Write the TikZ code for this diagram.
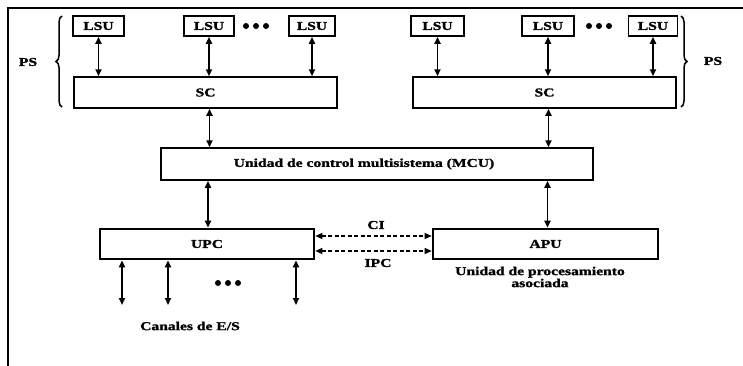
\documentclass[tikz,border=0pt]{standalone}
\usepackage{fontspec}
\setmainfont{Liberation Serif}[FakeStretch=1.3,FakeBold=1.5]
\usetikzlibrary{arrows.meta,decorations.pathreplacing}
\begin{document}
\begin{tikzpicture}[x=1pt,y=-1pt,
  every node/.style={font=\fontsize{12}{13}\selectfont\bfseries},
  box/.style={draw,line width=1.5pt,inner sep=0pt},
  thickbox/.style={draw,line width=2.6pt,inner sep=0pt},
  lsu/.style={box,minimum height=20pt},
  arr/.style={line width=1.8pt,{Triangle[length=7pt,width=6pt]}-{Triangle[length=7pt,width=6pt]}},
  darr/.style={line width=1.3pt,dash pattern=on 4pt off 2.5pt,{Triangle[length=7pt,width=6pt]}-{Triangle[length=7pt,width=6pt]}},
  lbl/.style={inner sep=0pt}]
\useasboundingbox (0,0) rectangle (743,365);
% frame
\draw[line width=1.6pt] (8,366) -- (8,8) -- (744,8);
% left group
\node[lsu,minimum width=51pt] (l1) at (98.5,26) {LSU};
\node[lsu,minimum width=50pt] (l2) at (209,26) {LSU};
\node[lsu,minimum width=46pt] (l3) at (312,26) {LSU};
\node[box,minimum width=263pt,minimum height=31pt] (sc1) at (205.5,92.5) {SC};
% right group
\node[lsu,minimum width=53pt] (r1) at (437.5,26) {LSU};
\node[lsu,minimum width=52pt] (r2) at (548,26) {LSU};
\node[lsu,minimum width=49pt] (r3) at (653,26) {LSU};
\node[box,minimum width=263pt,minimum height=31pt] (sc2) at (544.5,92.5) {SC};
% dots
\foreach \x in {246,256,266} \fill (\x,26) circle (3pt);
\foreach \x in {589,599,609} \fill (\x,26) circle (3pt);
\foreach \x in {218,228,238} \fill (\x,283) circle (3pt);
% braces
\draw[line width=1.5pt,decorate,decoration={brace,amplitude=6pt}] (62,107) -- (62,16);
\draw[line width=1.5pt,decorate,decoration={brace,amplitude=6pt}] (681,16) -- (681,107);
\node[lbl] (ps1) at (28,62) {PS};
\node[lbl] (ps2) at (713,61) {PS};
% MCU
\node[box,minimum width=432pt,minimum height=32pt] (mcu) at (377,164) {\hspace*{-26pt}Unidad de control multisistema (MCU)};
% UPC / APU
\node[thickbox,minimum width=214pt,minimum height=30pt] (upc) at (207,244) {UPC};
\node[thickbox,minimum width=225pt,minimum height=30pt] (apu) at (545.5,244) {APU};
% LSU - SC arrows
\foreach \n in {l1,l2,l3} \draw[arr] (\n.south) -- (\n.south |- sc1.north);
\foreach \n in {r1,r2,r3} \draw[arr] (\n.south) -- (\n.south |- sc2.north);
% SC - MCU
\draw[arr] ([xshift=4pt]sc1.south) -- ([xshift=4pt]sc1.south |- mcu.north);
\draw[arr] ([xshift=4pt]sc2.south) -- ([xshift=4pt]sc2.south |- mcu.north);
% MCU - UPC / APU
\draw[arr] ([xshift=1pt]upc.north |- mcu.south) -- ([xshift=1pt]upc.north);
\draw[arr] ([xshift=2pt]apu.north |- mcu.south) -- ([xshift=2pt]apu.north);
% CI / IPC
\draw[darr] ([yshift=8pt]upc.east) -- ([yshift=8pt]upc.east -| apu.west);
\draw[darr] ([yshift=-7pt]upc.east) -- ([yshift=-7pt]upc.east -| apu.west);
\node[lbl] (ci) at (376,225) {CI};
\node[lbl] (ipc) at (378,263) {IPC};
% I/O channels
\coordinate (c1) at (122,305);
\coordinate (c2) at (168,305);
\coordinate (c3) at (296,305);
\foreach \c in {c1,c2,c3} \draw[arr] (\c |- upc.south) -- (\c);
\node[lbl] (can) at (190,326) {Canales de E/S};
\node[lbl,align=center] (apulbl) at (540,277) {Unidad de procesamiento\\[-1pt]asociada};
\end{tikzpicture}
\end{document}
